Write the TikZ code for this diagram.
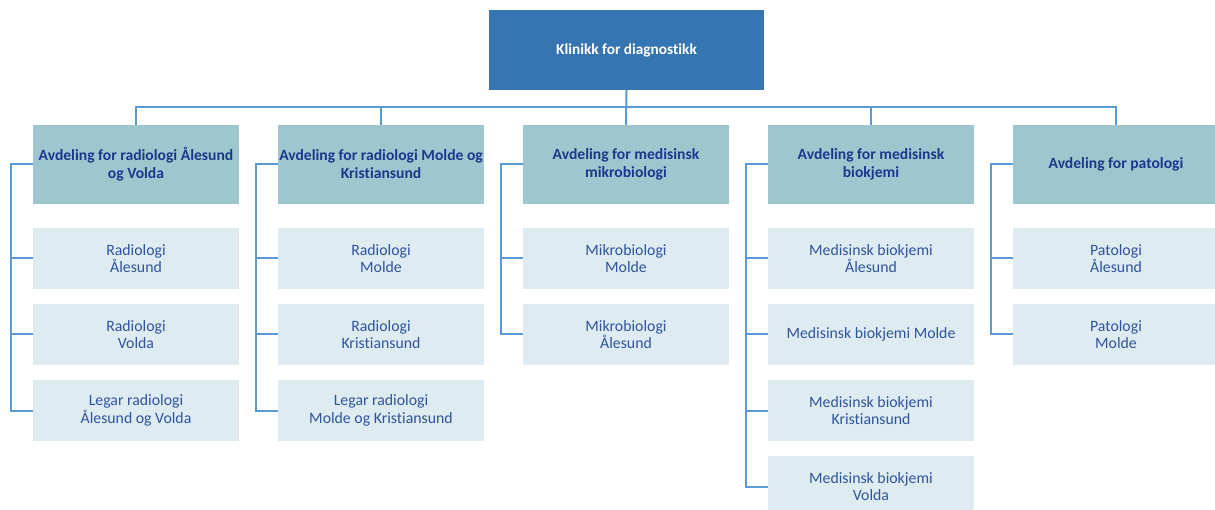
\documentclass[tikz,border=0pt]{standalone}
\usepackage{fontspec}
\setmainfont{Carlito}[Ligatures=NoCommon]
\definecolor{topfill}{RGB}{52,117,178}
\definecolor{headfill}{RGB}{157,198,206}
\definecolor{subfill}{RGB}{222,235,240}
\definecolor{linkblue}{RGB}{91,155,213}
\definecolor{headtext}{RGB}{30,55,140}
\definecolor{subtext}{RGB}{47,84,160}
\tikzset{
  topbox/.style={fill=topfill, text=white, font=\fontsize{15.3}{18}\selectfont\bfseries,
    minimum width=275pt, minimum height=80pt, inner sep=0pt, align=center},
  headbox/.style={fill=headfill, text=headtext, font=\fontsize{15.6}{18}\selectfont\bfseries,
    minimum width=206pt, minimum height=79pt, inner sep=0pt, align=center},
  subbox/.style={fill=subfill, text=subtext, font=\fontsize{15.8}{17.5}\selectfont,
    minimum width=206pt, minimum height=61pt, inner sep=0pt, align=center},
  link/.style={draw=linkblue, line width=2pt}
}
\begin{document}
\begin{tikzpicture}[x=1pt,y=-1pt]
\useasboundingbox (0,0) rectangle (1215,510);

% top unit
\node[topbox] (top) at (626.5,50) {Klinikk for diagnostikk};

% departments
\node[headbox] (h1) at (136,164.5) {Avdeling for radiologi Ålesund\\og Volda};
\node[headbox] (h2) at (381,164.5) {Avdeling for radiologi Molde og\\Kristiansund};
\node[headbox] (h3) at (626,164.5) {Avdeling for medisinsk\\mikrobiologi};
\node[headbox] (h4) at (871,164.5) {Avdeling for medisinsk\\biokjemi};
\node[headbox] (h5) at (1116,164.5) {Avdeling for patologi};

% sections
\node[subbox] (s11) at (136,258.5) {Radiologi\\Ålesund};
\node[subbox] (s12) at (136,334.5) {Radiologi\\Volda};
\node[subbox] (s13) at (136,410.5) {Legar radiologi\\Ålesund og Volda};

\node[subbox] (s21) at (381,258.5) {Radiologi\\Molde};
\node[subbox] (s22) at (381,334.5) {Radiologi\\Kristiansund};
\node[subbox] (s23) at (381,410.5) {Legar radiologi\\Molde og Kristiansund};

\node[subbox] (s31) at (626,258.5) {Mikrobiologi\\Molde};
\node[subbox] (s32) at (626,334.5) {Mikrobiologi\\Ålesund};

\node[subbox] (s41) at (871,258.5) {Medisinsk biokjemi\\Ålesund};
\node[subbox] (s42) at (871,334.5) {Medisinsk biokjemi Molde};
\node[subbox] (s43) at (871,410.5) {Medisinsk biokjemi\\Kristiansund};
\node[subbox] (s44) at (871,486.5) {Medisinsk biokjemi\\Volda};

\node[subbox] (s51) at (1116,258.5) {Patologi\\Ålesund};
\node[subbox] (s52) at (1116,334.5) {Patologi\\Molde};

% bus from the top unit to the departments
\coordinate (bus) at (626,107);
\draw[link] (top.south) -- (h3.north);
\draw[link] (h1.north) |- (bus) -| (h5.north);
\draw[link] (h2.north) |- (bus);
\draw[link] (h4.north) |- (bus);

% rails on the left of each department
\coordinate (r1) at (11,0);
\coordinate (r2) at (256,0);
\coordinate (r3) at (501,0);
\coordinate (r4) at (746,0);
\coordinate (r5) at (991,0);

\draw[link] (h1.west) -| (r1 |- s13.west) -- (s13.west);
\draw[link] (r1 |- s11.west) -- (s11.west);
\draw[link] (r1 |- s12.west) -- (s12.west);

\draw[link] (h2.west) -| (r2 |- s23.west) -- (s23.west);
\draw[link] (r2 |- s21.west) -- (s21.west);
\draw[link] (r2 |- s22.west) -- (s22.west);

\draw[link] (h3.west) -| (r3 |- s32.west) -- (s32.west);
\draw[link] (r3 |- s31.west) -- (s31.west);

\draw[link] (h4.west) -| (r4 |- s44.west) -- (s44.west);
\draw[link] (r4 |- s41.west) -- (s41.west);
\draw[link] (r4 |- s42.west) -- (s42.west);
\draw[link] (r4 |- s43.west) -- (s43.west);

\draw[link] (h5.west) -| (r5 |- s52.west) -- (s52.west);
\draw[link] (r5 |- s51.west) -- (s51.west);
\end{tikzpicture}
\end{document}
